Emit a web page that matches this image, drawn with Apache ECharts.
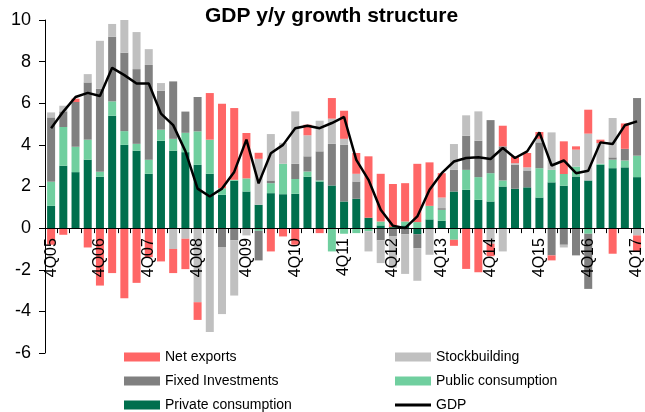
<!DOCTYPE html>
<html>
<head>
<meta charset="utf-8">
<script src="https://cdn.jsdelivr.net/npm/echarts@6/dist/echarts.min.js"></script>
<style>html,body{margin:0;padding:0;background:#fff;}#c{width:645px;height:412px;}</style>
</head>
<body>
<div id="c"></div>
<script>
var quarters = ['4Q05','1Q06','2Q06','3Q06','4Q06','1Q07','2Q07','3Q07','4Q07','1Q08','2Q08','3Q08','4Q08','1Q09','2Q09','3Q09','4Q09','1Q10','2Q10','3Q10','4Q10','1Q11','2Q11','3Q11','4Q11','1Q12','2Q12','3Q12','4Q12','1Q13','2Q13','3Q13','4Q13','1Q14','2Q14','3Q14','4Q14','1Q15','2Q15','3Q15','4Q15','1Q16','2Q16','3Q16','4Q16','1Q17','2Q17','3Q17','4Q17'];

var privateConsumption = [1.07,3.0,2.69,3.29,2.47,5.4,4.0,3.72,2.61,4.2,3.72,3.65,3.04,2.61,1.6,2.28,1.76,1.12,1.68,1.63,1.65,2.47,2.24,2.05,1.28,1.41,0.5,0.13,0.05,0.13,-0.29,0.42,0.35,1.76,1.84,1.36,1.28,2.0,1.89,1.96,1.47,2.2,2.04,2.48,2.29,3.04,2.88,2.92,2.45];
var publicConsumption = [1.16,1.86,1.22,0.96,0.24,0.69,0.66,0.33,0.68,0.53,0.57,0.93,1.61,1.64,0.32,0.04,0.63,-0.13,0.48,1.46,0.71,0.25,0.05,-1.12,-0.27,-0.24,-0.15,0.19,0,0.19,0.29,0.65,0.53,-0.56,0.96,1.09,1.36,0.29,0,0,1.41,0.6,0.56,0.48,-0.27,0.05,0.41,0.33,1.03];
var fixedInvestments = [3.09,0.75,2.15,2.75,3.99,3.11,3.77,3.59,4.55,1.87,2.76,1.02,1.65,-0.05,-0.93,-0.59,0,-1.42,0.13,0,0.73,0.73,1.4,2.0,2.72,0.83,0,-0.59,-0.4,-0.3,-0.67,0,0.08,1.04,1.64,1.75,2.55,1.64,1.15,0.81,1.24,-1.31,-0.8,-1.31,-2.65,0,0.11,0.56,2.77];
var stockbuilding = [0.24,0.27,0,0.4,2.3,0.61,1.62,1.78,0.76,0.37,-1.0,-0.51,-3.56,-4.94,-3.2,-2.65,-0.35,2.21,2.23,1.01,2.52,1.01,1.47,1.21,0.29,0.37,-0.97,-1.09,-1.5,-1.9,-1.57,-1.28,0.51,1.24,0.98,1.41,-0.75,-1.12,0.08,0.15,0.17,1.8,-0.13,0.81,2.25,1.0,1.89,0,-0.35];
var netExports = [-0.8,-0.32,0.16,-0.93,-2.76,-2.16,-3.37,-2.63,-1.4,-1.6,-1.16,-1.46,-0.85,2.24,4.06,3.45,2.18,0.29,-1.12,-0.4,-0.8,0.51,-0.24,0.99,1.35,1.0,2.95,2.29,2.07,1.84,2.8,2.09,1.17,-0.29,-1.96,-2.12,-0.6,0.99,0.33,0.69,0.33,-0.24,1.57,0.16,1.15,0.16,-1.23,1.22,-0.8];
var gdp = [4.8,5.6,6.3,6.5,6.35,7.7,7.35,6.95,6.95,5.5,4.95,3.7,1.9,1.52,1.9,2.7,4.25,2.15,3.6,4.0,4.8,4.92,4.8,5.05,5.34,3.28,2.32,0.88,0.11,0.0,0.56,1.84,2.64,3.2,3.37,3.4,3.32,3.85,3.37,3.69,4.6,3.01,3.25,2.64,2.76,4.12,4.04,4.94,5.13];
var yMin = -6, yMax = 10, yStep = 2;

var FONT = '"Liberation Sans", Arial, sans-serif';
var GRID_TOP = 20, GRID_H = 333;
// pixel distance from grid bottom to the zero line, derived from the value scale
var zeroOffset = GRID_H * (0 - yMin) / (yMax - yMin);

var chart = echarts.init(document.getElementById('c'), null, {renderer:'canvas'});

function bar(name, data, color) {
  return {name:name, type:'bar', stack:'gdp', data:data, barWidth:8,
    itemStyle:{color:color}, emphasis:{disabled:true}};
}
function leg(name, left, top, extra) {
  var o = {orient:'horizontal', left:left, top:top, padding:0, itemWidth:36, itemHeight:9,
    icon:'rect', data:[name], selectedMode:false,
    textStyle:{fontFamily:FONT, fontSize:14, color:'#000', lineHeight:14}};
  for (var k in (extra||{})) o[k] = extra[k];
  return o;
}

chart.setOption({
  animation:false,
  backgroundColor:'#fff',
  title:{text:'GDP y/y growth structure', left:200, top:1,
    textStyle:{fontFamily:FONT, fontSize:21, fontWeight:'bold', color:'#000'}},
  grid:{left:45, top:GRID_TOP, width:604, height:GRID_H, containLabel:false},
  legend:[
    leg('Net exports', 124, 350),
    leg('Fixed Investments', 124, 374),
    leg('Private consumption', 124, 398),
    leg('Stockbuilding', 395, 350),
    leg('Public consumption', 395, 374),
    leg('GDP', 395, 398, {itemHeight:3, itemStyle:{color:'#000'}})
  ],
  xAxis:{type:'category', data:quarters, offset:-zeroOffset, z:20,
    axisLine:{onZero:false, lineStyle:{color:'#000', width:1}},
    axisTick:{show:true, interval:0, length:5, lineStyle:{color:'#000'}},
    axisLabel:{interval:3, rotate:90, margin:10, fontFamily:FONT, fontSize:16, color:'#000', hideOverlap:false},
    splitLine:{show:false}},
  yAxis:{type:'value', min:yMin, max:yMax, interval:yStep,
    axisLine:{show:true, lineStyle:{color:'#000', width:1}},
    axisTick:{show:true, length:6, lineStyle:{color:'#000'}},
    axisLabel:{margin:14, fontFamily:FONT, fontSize:18, color:'#000'},
    splitLine:{show:false}},
  series:[
    bar('Private consumption', privateConsumption, '#006F4D'),
    bar('Public consumption', publicConsumption, '#70CF9F'),
    bar('Fixed Investments', fixedInvestments, '#808080'),
    bar('Stockbuilding', stockbuilding, '#C0C0C0'),
    bar('Net exports', netExports, '#FF6666'),
    {name:'GDP', type:'line', data:gdp, symbol:'none', z:10,
     lineStyle:{color:'#000', width:2.5}, itemStyle:{color:'#000'}, emphasis:{disabled:true}}
  ]
});
</script>
</body>
</html>
